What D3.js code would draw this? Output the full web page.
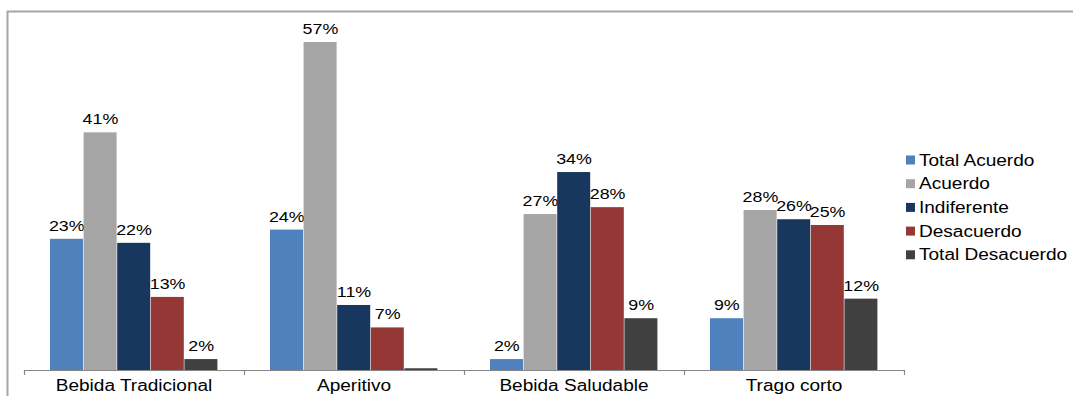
<!DOCTYPE html>
<html>
<head>
<meta charset="utf-8">
<script src="https://cdn.jsdelivr.net/npm/d3@7"></script>
<style>
  html, body { margin: 0; padding: 0; background: #fff; }
  svg { display: block; font-family: "Liberation Sans", Arial, sans-serif; }
</style>
</head>
<body>
<svg id="chart" width="1073" height="396"></svg>
<script>
const categories = ["Bebida Tradicional", "Aperitivo", "Bebida Saludable", "Trago corto"];
const seriesNames = ["Total Acuerdo", "Acuerdo", "Indiferente", "Desacuerdo", "Total Desacuerdo"];
const seriesColors = ["#4F81BD", "#A5A5A5", "#17375E", "#953735", "#404040"];
const totalAcuerdo = [22.8, 24.4, 1.9, 9.0];
const acuerdo = [41.3, 57.0, 27.1, 27.8];
const indiferente = [22.1, 11.3, 34.4, 26.2];
const desacuerdo = [12.7, 7.4, 28.3, 25.2];
const totalDesacuerdo = [1.9, 0.3, 9.0, 12.4];
const seriesValues = [totalAcuerdo, acuerdo, indiferente, desacuerdo, totalDesacuerdo];

const SX = 1.19; // horizontal stretch of the reference lettering

const svg = d3.select("#chart");

// outer frame
svg.append("path")
  .attr("d", "M7.5,396 V11.5 H1073")
  .attr("fill", "none").attr("stroke", "#A6A6A6").attr("stroke-width", 2);

const x0 = d3.scaleBand().domain(categories).range([24, 904]).paddingInner(0).paddingOuter(0);
const x1 = d3.scaleBand().domain(seriesNames).range([26, 220 - 26]).padding(0);
const y = d3.scaleLinear().domain([0, 57]).range([370, 42]);

const groups = svg.append("g").selectAll("g")
  .data(categories).join("g")
  .attr("transform", d => `translate(${x0(d)},0)`);

groups.each(function(cat, ci) {
  const g = d3.select(this);
  seriesNames.forEach((s, si) => {
    const v = seriesValues[si][ci];
    g.append("rect")
      .attr("x", x1(s))
      .attr("y", y(v))
      .attr("width", x1.bandwidth() - 0.6)
      .attr("height", y(0) - y(v))
      .attr("fill", seriesColors[si]);
    if (v >= 1) {
      g.append("text")
        .attr("transform", `translate(${x1(s) + x1.bandwidth() / 2},${y(v) - 8}) scale(${SX},1)`)
        .attr("text-anchor", "middle")
        .attr("font-size", 15)
        .attr("fill", "#000")
        .text(d3.format(".0f")(v) + "%");
    }
  });
});

// x axis
const axis = d3.axisBottom(x0).tickSize(0).tickPadding(10);
const ax = svg.append("g").attr("transform", "translate(0,370)").call(axis);
ax.select(".domain").attr("stroke", "#868686").attr("stroke-width", 1.2).attr("d", "M24,0.5H904");
ax.selectAll("text").attr("font-size", 16).attr("fill", "#000")
  .attr("font-family", "Liberation Sans, Arial, sans-serif")
  .attr("transform", `scale(${SX},1)`);
// tick marks at band boundaries
const bounds = categories.map(c => x0(c)).concat([x0.range()[1]]);
ax.selectAll("line.bound").data(bounds).join("line")
  .attr("class", "bound")
  .attr("x1", d => d + 0.5).attr("x2", d => d + 0.5)
  .attr("y1", 0).attr("y2", 5)
  .attr("stroke", "#868686").attr("stroke-width", 1.2);

// legend
const legend = svg.append("g").attr("transform", "translate(906,160)");
seriesNames.forEach((s, i) => {
  const row = legend.append("g").attr("transform", `translate(0,${i * 23.7})`);
  row.append("rect").attr("x", 0).attr("y", -4.5).attr("width", 9).attr("height", 9).attr("fill", seriesColors[i]);
  row.append("text").attr("transform", `translate(13,0) scale(${SX},1)`).attr("dy", "0.35em")
    .attr("font-size", 16).attr("fill", "#000").text(s);
});
</script>
</body>
</html>
